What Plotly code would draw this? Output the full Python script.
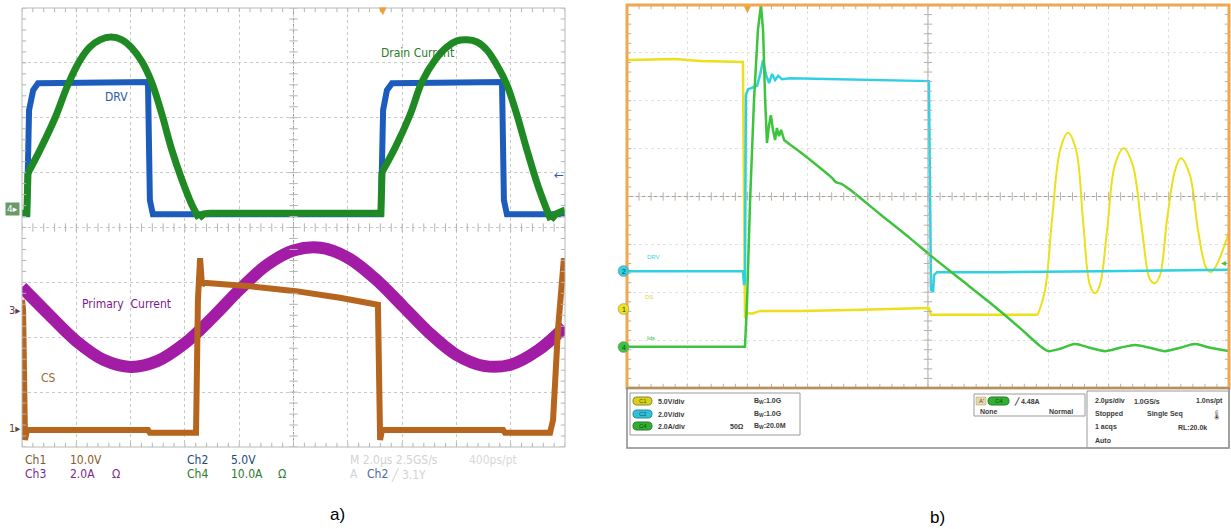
import numpy as np
import plotly.graph_objects as go

W, H = 1231, 529

# ---------------- Panel a) data : time in µs (2 µs/div), amplitude in screen divisions ----------------
drv_a_t = [0.00, 0.18, 0.26, 0.41, 0.59, 4.64, 4.71, 4.82, 13.22, 13.30, 13.44, 13.63, 17.68, 17.75, 17.86, 20.00]
drv_a_y = [0.24, 0.24, 2.14, 2.50, 2.63, 2.65, 0.50, 0.24, 0.24, 2.14, 2.50, 2.63, 2.65, 0.50, 0.24, 0.24]

drain_t = [0.00, 0.18, 0.22, 0.66, 1.22, 1.69, 2.14, 2.50, 2.87, 3.28, 3.68, 4.05, 4.42, 4.79, 5.16, 5.52,
           5.89, 6.26, 6.52, 6.70, 6.92, 13.22, 13.26, 13.74, 14.29, 14.73, 15.21, 15.65, 16.02, 16.39, 16.76,
           17.13, 17.49, 17.86, 18.23, 18.60, 18.97, 19.30, 19.48, 19.67, 20.00]
drain_y = [0.26, 0.26, 0.99, 1.41, 2.00, 2.60, 3.05, 3.29, 3.42, 3.47, 3.42, 3.27, 3.02, 2.63, 2.05, 1.41,
           0.87, 0.41, 0.17, 0.25, 0.26, 0.26, 1.01, 1.45, 2.05, 2.65, 3.05, 3.29, 3.40, 3.42, 3.38,
           3.23, 2.96, 2.60, 2.05, 1.41, 0.81, 0.36, 0.14, 0.25, 0.32]

primary_t = [0, 1, 2, 3, 4, 5, 6, 7, 8, 9, 10, 11, 12, 13, 14, 15, 16, 17, 18, 19, 20]
primary_y = [-1.09, -1.59, -2.07, -2.41, -2.54, -2.43, -2.11, -1.65, -1.14, -0.69, -0.42, -0.37, -0.55,
             -0.93, -1.42, -1.92, -2.32, -2.52, -2.50, -2.24, -1.81]

cs_t = [0.00, 0.04, 0.11, 0.18, 4.64, 4.71, 6.41, 6.48, 6.56, 6.63, 6.70, 6.81, 8.40, 10.09, 11.71, 13.11,
        13.19, 13.26, 17.72, 17.79, 19.45, 19.56, 19.74, 19.89, 19.96, 20.00]
cs_y = [-1.32, -1.50, -3.87, -3.69, -3.69, -3.74, -3.74, -1.32, -0.56, -1.05, -1.01, -1.01, -1.07, -1.16,
        -1.28, -1.41, -3.87, -3.69, -3.69, -3.74, -3.74, -3.51, -1.87, -0.77, -0.56, -0.90]

# ---------------- Panel b) data ----------------
ds_step_t = [0.00, 1.60, 2.43, 3.85, 3.89, 3.92, 4.02, 4.15, 4.42, 5.75, 7.41, 9.07, 10.03, 10.10, 11.06, 12.39, 13.65]
ds_step_y = [2.85, 2.87, 2.83, 2.81, -0.07, -2.54, -2.43, -2.45, -2.39, -2.39, -2.37, -2.35, -2.33, -2.47, -2.47, -2.47, -2.47]
ds_ring_t = [13.65, 13.89, 14.12, 14.39, 14.65, 14.92, 15.15, 15.38, 15.55, 15.71, 15.95, 16.21, 16.50, 16.80,
             17.11, 17.38, 17.54, 17.71, 17.94, 18.21, 18.40, 18.70, 18.97, 19.24, 19.40, 19.57, 19.77, 20.00]
ds_ring_y = [-2.47, -1.95, -0.49, 0.97, 1.33, 0.97, -0.49, -1.85, -2.02, -1.85, -0.70, 0.66, 1.01, 0.66,
             -0.70, -1.74, -1.81, -1.64, -0.49, 0.55, 0.80, 0.45, -0.70, -1.49, -1.58, -1.45, -1.16, -0.74]

drv_b_t = [0.00, 3.85, 3.89, 3.92, 3.95, 4.02, 4.15, 4.32, 4.42, 4.52, 4.62, 4.72, 4.82, 4.92, 5.02, 5.15,
           5.42, 7.41, 9.07, 10.03, 10.07, 10.10, 10.17, 10.20, 10.30, 12.39, 15.71, 20.00]
drv_b_y = [-1.56, -1.56, -1.85, -1.74, 2.12, 2.24, 2.27, 2.31, 2.54, 2.85, 2.54, 2.37, 2.56, 2.43, 2.52, 2.45,
           2.47, 2.45, 2.43, 2.41, -0.07, -1.95, -1.99, -1.64, -1.58, -1.58, -1.56, -1.53]

ids_t = [0.00, 3.85, 3.92, 3.99, 4.09, 4.22, 4.35, 4.45, 4.52, 4.59, 4.65, 4.72, 4.78, 4.85, 4.92, 4.98,
         5.05, 5.12, 5.22, 5.42, 5.75, 6.41, 6.81, 6.94, 7.14, 7.41, 8.41, 9.40, 10.10, 11.06, 12.06, 13.06,
         13.72, 13.99, 14.39, 14.88, 15.38, 15.88, 16.38, 16.88, 17.38, 17.87, 18.37, 18.87, 19.37, 20.00]
ids_y = [-3.14, -3.14, -3.14, -2.16, -0.07, 2.02, 3.48, 4.00, 3.48, 2.02, 1.12, 1.49, 1.70, 1.39, 1.18, 1.43,
         1.26, 1.39, 1.18, 1.08, 0.93, 0.60, 0.39, 0.30, 0.26, 0.14, -0.37, -0.87, -1.24, -1.72, -2.22, -2.75,
         -3.12, -3.23, -3.18, -3.08, -3.16, -3.23, -3.16, -3.10, -3.16, -3.23, -3.16, -3.08, -3.16, -3.23]

# ---------------- helpers ----------------
def px(x):
    return x / W


def py(y):
    return 1 - y / H


annotations = []
shapes = []
NARROW = "Liberation Sans Narrow, Arial Narrow, DejaVu Sans Condensed, sans-serif"
SMALL = "Liberation Sans, Arial, sans-serif"


def text(x, y, s, color, size=12, anchor="left", family=NARROW, bg=None):
    a = dict(x=px(x), y=py(y), xref="paper", yref="paper", text=s, showarrow=False,
             xanchor=anchor, yanchor="middle", font=dict(color=color, size=size, family=family))
    if bg:
        a.update(bgcolor=bg, borderpad=1)
    annotations.append(a)


def rect(x0, y0, x1, y1, color, width=1, fill=None):
    shapes.append(dict(type="rect", xref="paper", yref="paper", x0=px(x0), y0=py(y0), x1=px(x1), y1=py(y1),
                       line=dict(color=color, width=width), fillcolor=fill or "rgba(0,0,0,0)", layer="above"))


def pill(x0, y0, x1, y1, fill, edge):
    r = (y1 - y0) / 2.0
    P = lambda x, y: f"{px(x):.5f},{py(y):.5f}"
    path = (f"M {P(x0 + r, y0)} L {P(x1 - r, y0)} Q {P(x1, y0)} {P(x1, y0 + r)} Q {P(x1, y1)} {P(x1 - r, y1)} "
            f"L {P(x0 + r, y1)} Q {P(x0, y1)} {P(x0, y0 + r)} Q {P(x0, y0)} {P(x0 + r, y0)} Z")
    shapes.append(dict(type="path", xref="paper", yref="paper", path=path, fillcolor=fill,
                       line=dict(color=edge, width=1), layer="above"))


def line_trace(x, y, color, width, xa, ya, shape="linear", smoothing=1.0):
    ln = dict(color=color, width=width, shape=shape)
    if shape == "spline":
        ln["smoothing"] = smoothing
    fig.add_trace(go.Scatter(x=x, y=y, mode="lines", line=ln, xaxis=xa, yaxis=ya,
                             hoverinfo="skip", showlegend=False))


fig = go.Figure()

# ---------------- panel a traces ----------------
line_trace(primary_t, primary_y, "#a31ca6", 12, "x", "y", "spline")
line_trace(cs_t, cs_y, "#b5651d", 6, "x", "y")
line_trace(drv_a_t, drv_a_y, "#1c5cbc", 6, "x", "y")
# drain current: flat parts/jumps straight, arcs smoothed
for a, b, shp in ((0, 3, "linear"), (2, 19, "spline"), (18, 23, "linear"), (22, 39, "spline"), (38, 41, "linear")):
    line_trace(drain_t[a:b], drain_y[a:b], "#1f8a24", 7, "x", "y", shp)

# ---------------- panel b traces ----------------
line_trace(ds_step_t, ds_step_y, "#ecdf1c", 2.5, "x2", "y2")
line_trace(ds_ring_t, ds_ring_y, "#ecdf1c", 2, "x2", "y2", "spline")
line_trace(drv_b_t, drv_b_y, "#2fd0e2", 2.5, "x2", "y2")
line_trace(ids_t[:20], ids_y[:20], "#3cc43c", 2.5, "x2", "y2")
line_trace(ids_t[19:], ids_y[19:], "#3cc43c", 2.5, "x2", "y2", "spline", 0.8)


# ---------------- graticule tick decorations ----------------
def tick_traces(xa, ya, color, size):
    xs = np.arange(0, 20.001, 0.4)
    ys = np.arange(-4, 4.001, 0.2)
    for yv in (0, 4, -4):
        fig.add_trace(go.Scatter(x=xs, y=[yv] * len(xs), mode="markers", xaxis=xa, yaxis=ya, hoverinfo="skip",
                                 showlegend=False,
                                 marker=dict(symbol="line-ns-open", size=size, color=color, line=dict(color=color, width=1))))
    for xv in (10, 0, 20):
        fig.add_trace(go.Scatter(x=[xv] * len(ys), y=ys, mode="markers", xaxis=xa, yaxis=ya, hoverinfo="skip",
                                 showlegend=False,
                                 marker=dict(symbol="line-ew-open", size=size, color=color, line=dict(color=color, width=1))))


tick_traces("x", "y", "#b4b4b4", 6)
tick_traces("x2", "y2", "#b8b0a8", 6)

# center lines
shapes.append(dict(type="line", xref="x", yref="y", x0=0, x1=20, y0=0, y1=0, line=dict(color="#9a9a9a", width=1, dash="dot"), layer="below"))
shapes.append(dict(type="line", xref="x", yref="y", x0=10, x1=10, y0=-4, y1=4, line=dict(color="#9a9a9a", width=1, dash="dot"), layer="below"))
shapes.append(dict(type="line", xref="x2", yref="y2", x0=0, x1=20, y0=0, y1=0, line=dict(color="#a89c90", width=1), layer="below"))
shapes.append(dict(type="line", xref="x2", yref="y2", x0=10, x1=10, y0=-4, y1=4, line=dict(color="#a89c90", width=1), layer="below"))

# borders
rect(22, 8, 565, 447, "#b6bab6", 1)
rect(627, 5, 1229, 388, "#f0a850", 3)

# ---------------- panel a texts / markers ----------------
text(103, 97, "DRV", "#2a5aa8", 12)
text(379, 53, "Drain Current", "#2a7a2a", 12)
text(80, 304, "Primary  Current", "#7a1a8a", 12)
text(39, 378, "CS", "#9a6a2a", 12)
text(383, 11, "▼", "#f0a030", 10, anchor="center", family="DejaVu Sans")
text(566, 175, "←", "#2a5aa8", 12, anchor="right", family="DejaVu Sans")
text(5, 209, "4▸", "#ffffff", 9, family="DejaVu Sans", bg="#6a9a6a")
text(7, 310, "3▸", "#5a3a5a", 11)
text(7, 428, "1▸", "#5a4a3a", 11)

text(23, 460, "Ch1", "#7a5a2e", 12)
text(68, 460, "10.0V", "#8a5a2a", 12)
text(23, 474, "Ch3", "#7a2a8a", 12)
text(68, 474, "2.0A", "#7a2a8a", 12)
text(110, 474, "Ω", "#7a2a8a", 12)
text(185, 460, "Ch2", "#1a4a7a", 12)
text(229, 460, "5.0V", "#1a4a7a", 12)
text(185, 474, "Ch4", "#2a7a2a", 12)
text(229, 474, "10.0A", "#2a7a2a", 12)
text(276, 474, "Ω", "#2a7a2a", 12)
text(348, 460, "M 2.0µs 2.5GS/s", "#d2d2d2", 12)
text(467, 460, "400ps/pt", "#d8d8d8", 12)
text(348, 474, "A", "#d2d2d2", 12)
text(365, 474, "Ch2", "#4a6a9a", 12)
text(389, 474, "╱ 3.1Y", "#d2d2d2", 12)

text(337, 514, "a)", "#000000", 17, anchor="center", family=SMALL)
text(937, 517, "b)", "#000000", 17, anchor="center", family=SMALL)

# ---------------- panel b texts / markers ----------------
text(747, 9, "▼", "#f0a030", 9, anchor="center", family="DejaVu Sans")
text(1228, 262, "◂", "#3cc43c", 10, anchor="right", family="DejaVu Sans")
for yy, lab, col in ((271, "2", "#2fd0e2"), (309, "1", "#ecdf1c"), (347, "4", "#3cc43c")):
    shapes.append(dict(type="circle", xref="paper", yref="paper", x0=px(618), x1=px(629), y0=py(yy - 5.5), y1=py(yy + 5.5),
                       fillcolor=col, line=dict(color="#888888", width=0.5), layer="above"))
    text(623.5, yy, lab, "#333333", 7, anchor="center", family=SMALL)
text(645, 257, "DRV", "#40d0e0", 6, family=SMALL)
text(643, 297, "DS", "#e0d840", 6, family=SMALL)
text(645, 338, "Ids", "#40c040", 6, family=SMALL)

# info panel
rect(627, 388, 1229, 448, "#8a8a8a", 1.5)
rect(630, 393, 800, 435, "#9a9a9a", 1)
rect(974, 394, 1085, 416, "#9a9a9a", 1)
rect(1087, 391, 1229, 448, "#9a9a9a", 1)
pill(633, 397, 652, 405, "#d8d020", "#8a8a20")
pill(633, 410, 652, 418, "#30c0d8", "#2a8a9a")
pill(633, 422, 652, 430, "#30b030", "#2a7a2a")
INFO = "#3a3a3a"
text(642.5, 401, "C1", "#5a5a10", 6, anchor="center", family=SMALL)
text(642.5, 414, "C2", "#105a6a", 6, anchor="center", family=SMALL)
text(642.5, 426, "C4", "#104a10", 6, anchor="center", family=SMALL)
text(656, 401, "<b>5.0V/div</b>", INFO, 7, family=SMALL)
text(656, 414, "<b>2.0V/div</b>", INFO, 7, family=SMALL)
text(656, 426, "<b>2.0A/div</b>", INFO, 7, family=SMALL)
text(752, 401, "<b>B<sub>W</sub>:1.0G</b>", INFO, 7, family=SMALL)
text(752, 414, "<b>B<sub>W</sub>:1.0G</b>", INFO, 7, family=SMALL)
text(728, 426, "<b>50Ω</b>", INFO, 7, family=SMALL)
text(752, 426, "<b>B<sub>W</sub>:20.0M</b>", INFO, 7, family=SMALL)

rect(976, 397, 986, 405, "#b09a70", 0.5, fill="#e8d8b0")
text(981, 401, "A'", "#5a4a2a", 6, anchor="center", family=SMALL)
pill(988, 397, 1009, 405, "#30b030", "#2a7a2a")
text(998.5, 401, "C4", "#104a10", 6, anchor="center", family=SMALL)
text(1012, 401, "<b>╱ 4.48A</b>", INFO, 7, family=SMALL)
text(978, 411, "<b>None</b>", INFO, 7, family=SMALL)
text(1047, 411, "<b>Normal</b>", INFO, 7, family=SMALL)

text(1093, 401, "<b>2.0µs/div</b>", INFO, 7, family=SMALL)
text(1132, 401, "<b>1.0GS/s</b>", INFO, 7, family=SMALL)
text(1194, 401, "<b>1.0ns/pt</b>", INFO, 7, family=SMALL)
text(1093, 414, "<b>Stopped</b>", INFO, 7, family=SMALL)
text(1145, 414, "<b>Single Seq</b>", INFO, 7, family=SMALL)
text(1093, 427, "<b>1 acqs</b>", INFO, 7, family=SMALL)
text(1176, 427, "<b>RL:20.0k</b>", INFO, 7, family=SMALL)
text(1093, 440, "<b>Auto</b>", INFO, 7, family=SMALL)
text(1216, 415, "🌡", "#333333", 9, anchor="center", family="DejaVu Sans")

# ---------------- layout ----------------
axis_common = dict(showticklabels=False, zeroline=False, ticks="", showline=False, fixedrange=True)
fig.update_layout(
    width=W, height=H, margin=dict(l=0, r=0, t=0, b=0),
    paper_bgcolor="white", plot_bgcolor="white",
    xaxis=dict(domain=[px(22), px(565)], range=[0, 20], dtick=2, showgrid=True, gridcolor="#c8c8c8", griddash="dot",
               gridwidth=1, anchor="y", **axis_common),
    yaxis=dict(domain=[py(447), py(8)], range=[-4, 4], dtick=1, showgrid=True, gridcolor="#c8c8c8", griddash="dot",
               gridwidth=1, anchor="x", **axis_common),
    xaxis2=dict(domain=[px(627), px(1229)], range=[0, 20], dtick=2, showgrid=True, gridcolor="#e2e2e2", griddash="dot",
                gridwidth=1, anchor="y2", **axis_common),
    yaxis2=dict(domain=[py(388), py(5)], range=[-4, 4], dtick=1, showgrid=True, gridcolor="#e2e2e2", griddash="dot",
                gridwidth=1, anchor="x2", **axis_common),
    annotations=annotations, shapes=shapes,
)

fig.write_html("out.html", config={"displayModeBar": False},
               post_script="document.body.style.margin='0';document.body.style.overflow='hidden';")
